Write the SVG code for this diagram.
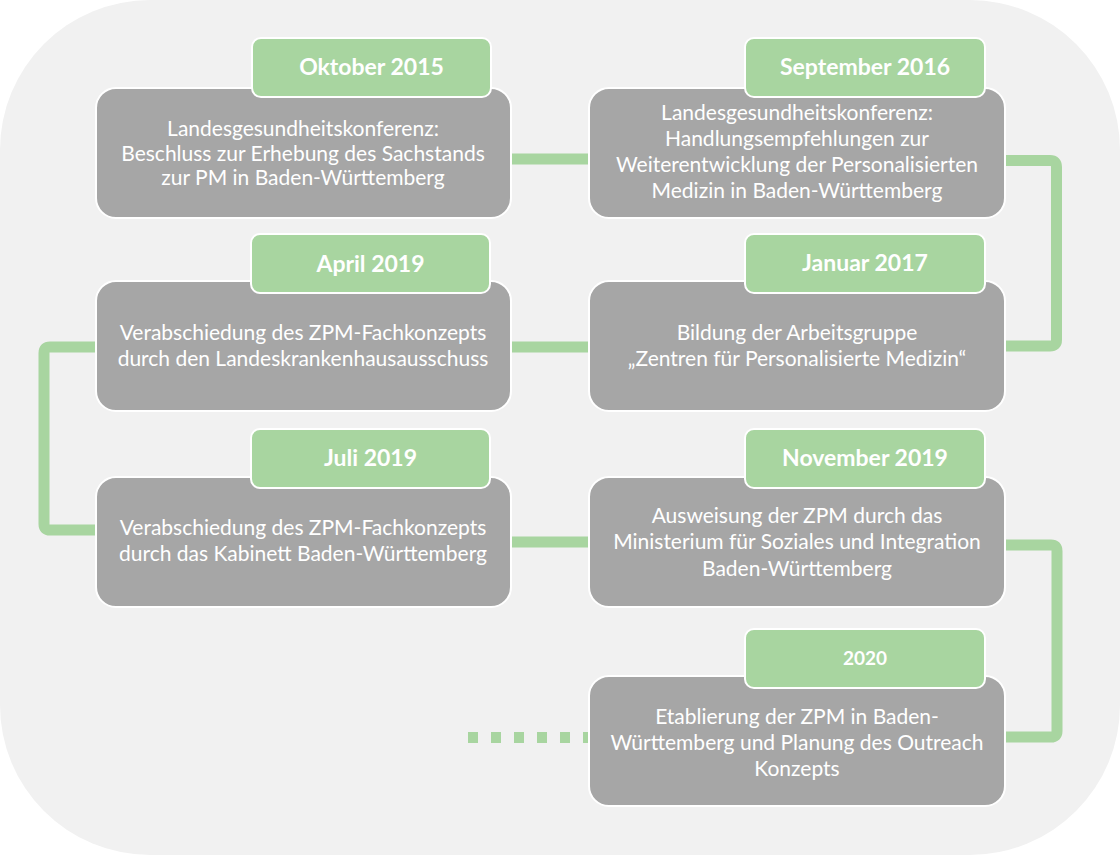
<svg xmlns="http://www.w3.org/2000/svg" width="1120" height="855" viewBox="0 0 1120 855">
<style>
.bg{fill:#f1f1f1}
.box{fill:#a6a6a6;stroke:#ffffff;stroke-width:2}
.tab{fill:#a8d5a0;stroke:#ffffff;stroke-width:2}
.con{fill:none;stroke:#a8d5a0;stroke-width:11;stroke-linejoin:round}
.dot{fill:none;stroke:#a8d5a0;stroke-width:11;stroke-dasharray:10 13}
.txt{font-family:Lato,"Open Sans","Liberation Sans",sans-serif;font-size:21px;fill:#ffffff;text-anchor:middle}
.ttl{font-family:Lato,"Open Sans","Liberation Sans",sans-serif;font-size:23px;font-weight:bold;fill:#ffffff;text-anchor:middle}
</style>
<rect class="bg" x="0" y="0" width="1120" height="855" rx="150" ry="150"/>
<g id="connectors">
<line class="con" x1="505" y1="159" x2="595" y2="159"/>
<path class="con" d="M1000 160.5 H1050 Q1056.5 160.5 1056.5 167 V340 Q1056.5 346 1050 346 H1000"/>
<line class="con" x1="505" y1="347" x2="595" y2="347"/>
<path class="con" d="M100 347 H50 Q44 347 44 353 V524 Q44 530 50 530 H100"/>
<line class="con" x1="505" y1="542" x2="595" y2="542"/>
<path class="con" d="M1000 545 H1051 Q1057 545 1057 551 V731 Q1057 737 1051 737 H1000"/>
<line class="dot" x1="468" y1="737.5" x2="592" y2="737.5"/>
</g>
<g id="n1">
<rect class="box" x="96" y="88" width="415" height="130" rx="20"/>
<rect class="tab" x="252" y="38" width="239" height="59" rx="9"/>
<text class="ttl" x="371.5" y="75">Oktober 2015</text>
<text class="txt" x="303" y="136">Landesgesundheitskonferenz:</text>
<text class="txt" x="303" y="161">Beschluss zur Erhebung des Sachstands</text>
<text class="txt" x="303" y="185">zur PM in Baden-Württemberg</text>
</g>
<g id="n2">
<rect class="box" x="589" y="88" width="416" height="130" rx="20"/>
<rect class="tab" x="745" y="38" width="240" height="59" rx="9"/>
<text class="ttl" x="865" y="75">September 2016</text>
<text class="txt" x="797" y="120">Landesgesundheitskonferenz:</text>
<text class="txt" x="797" y="146">Handlungsempfehlungen zur</text>
<text class="txt" x="797" y="172">Weiterentwicklung der Personalisierten</text>
<text class="txt" x="797" y="198">Medizin in Baden-Württemberg</text>
</g>
<g id="n3">
<rect class="box" x="589" y="281" width="416" height="130" rx="20"/>
<rect class="tab" x="745" y="234" width="240" height="59" rx="9"/>
<text class="ttl" x="865" y="271">Januar 2017</text>
<text class="txt" x="797" y="340">Bildung der Arbeitsgruppe</text>
<text class="txt" x="797" y="366">„Zentren für Personalisierte Medizin“</text>
</g>
<g id="n4">
<rect class="box" x="96" y="281" width="415" height="130" rx="20"/>
<rect class="tab" x="251" y="234" width="239" height="59" rx="9"/>
<text class="ttl" x="370.5" y="272">April 2019</text>
<text class="txt" x="303" y="340">Verabschiedung des ZPM-Fachkonzepts</text>
<text class="txt" x="303" y="366">durch den Landeskrankenhausausschuss</text>
</g>
<g id="n5">
<rect class="box" x="96" y="477" width="415" height="130" rx="20"/>
<rect class="tab" x="251" y="429" width="239" height="59" rx="9"/>
<text class="ttl" x="370.5" y="466">Juli 2019</text>
<text class="txt" x="303" y="535">Verabschiedung des ZPM-Fachkonzepts</text>
<text class="txt" x="303" y="561">durch das Kabinett Baden-Württemberg</text>
</g>
<g id="n6">
<rect class="box" x="589" y="477" width="416" height="130" rx="20"/>
<rect class="tab" x="745" y="429" width="240" height="59" rx="9"/>
<text class="ttl" x="865" y="466">November 2019</text>
<text class="txt" x="797" y="523">Ausweisung der ZPM durch das</text>
<text class="txt" x="797" y="549">Ministerium für Soziales und Integration</text>
<text class="txt" x="797" y="576">Baden-Württemberg</text>
</g>
<g id="n7">
<rect class="box" x="589" y="676" width="416" height="130" rx="20"/>
<rect class="tab" x="745" y="629" width="240" height="59" rx="9"/>
<text class="ttl" x="865" y="665" style="font-size:19px">2020</text>
<text class="txt" x="797" y="724">Etablierung der ZPM in Baden-</text>
<text class="txt" x="797" y="750">Württemberg und Planung des Outreach</text>
<text class="txt" x="797" y="776">Konzepts</text>
</g>
</svg>
